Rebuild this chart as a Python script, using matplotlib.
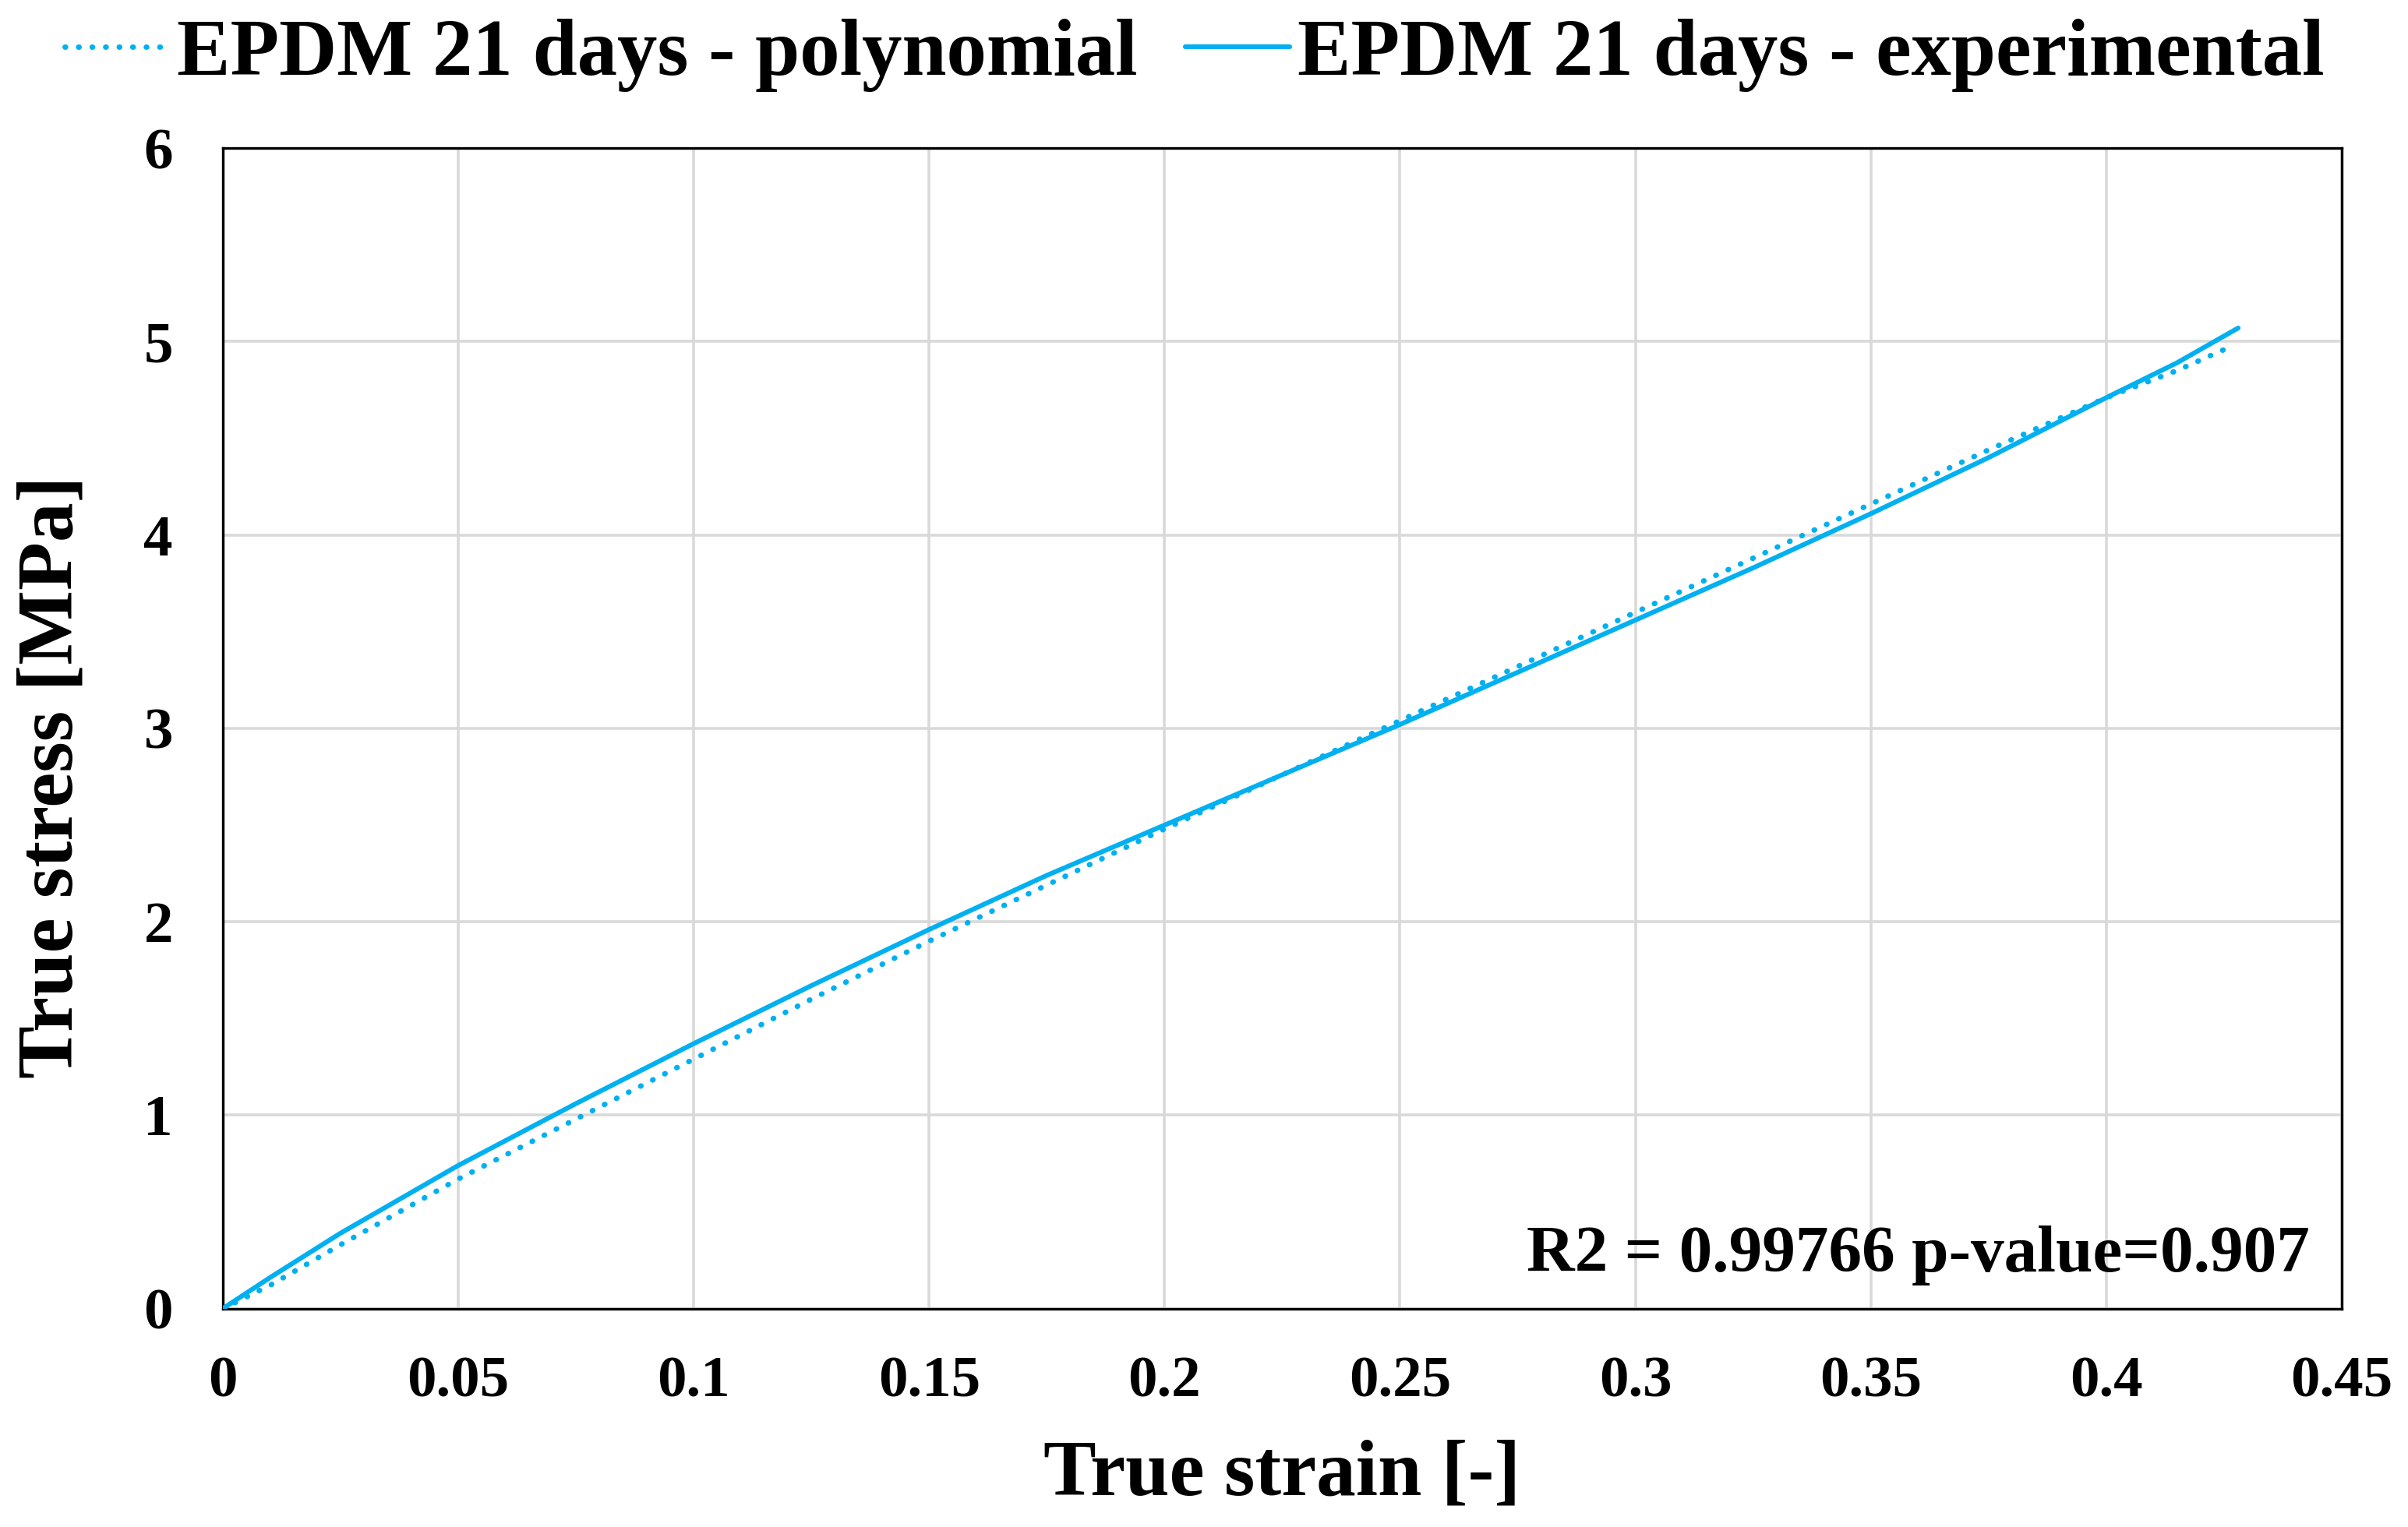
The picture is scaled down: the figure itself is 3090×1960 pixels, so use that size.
import matplotlib.pyplot as plt

# values
strain_exp = [0.0, 0.01, 0.025, 0.05, 0.075, 0.1, 0.125, 0.15, 0.175, 0.2,
              0.225, 0.25, 0.275, 0.3, 0.325, 0.35, 0.375, 0.4, 0.415, 0.428]
stress_exp = [0.0, 0.16, 0.39, 0.74, 1.06, 1.37, 1.67, 1.96, 2.24, 2.50,
              2.76, 3.02, 3.29, 3.56, 3.83, 4.11, 4.40, 4.71, 4.89, 5.07]

strain_poly = [0.0, 0.01, 0.025, 0.05, 0.075, 0.1, 0.125, 0.15, 0.175, 0.2,
               0.225, 0.25, 0.275, 0.3, 0.325, 0.35, 0.375, 0.4, 0.415, 0.427]
stress_poly = [0.0, 0.12, 0.33, 0.67, 0.98, 1.29, 1.60, 1.90, 2.19, 2.48,
               2.76, 3.04, 3.32, 3.60, 3.88, 4.16, 4.44, 4.71, 4.85, 4.98]

x_ticks = [0, 0.05, 0.1, 0.15, 0.2, 0.25, 0.3, 0.35, 0.4, 0.45]
x_ticklabels = ["0", "0.05", "0.1", "0.15", "0.2", "0.25", "0.3", "0.35", "0.4", "0.45"]
y_ticks = [0, 1, 2, 3, 4, 5, 6]

blue = "#00B0F0"

plt.rcParams["font.family"] = ["Liberation Serif", "DejaVu Serif"]
plt.rcParams["font.weight"] = "bold"

fig = plt.figure(figsize=(15.45, 9.8), dpi=200)
ax = fig.add_axes([0.0925, 0.143, 0.880, 0.760])

ax.plot(strain_poly, stress_poly, color=blue, lw=2.5, ls=(0, (0.1, 2.4)),
        dash_capstyle="round", label="EPDM 21 days - polynomial", zorder=3)
ax.plot(strain_exp, stress_exp, color=blue, lw=2.2, solid_capstyle="round",
        label="EPDM 21 days - experimental", zorder=3)

ax.set_xlim(0, 0.45)
ax.set_ylim(0, 6)
ax.set_xticks(x_ticks)
ax.set_xticklabels(x_ticklabels)
ax.set_yticks(y_ticks)
ax.tick_params(axis="x", length=0, labelsize=27, pad=22)
ax.tick_params(axis="y", length=0, labelsize=27, pad=23)
for lab in ax.get_xticklabels() + ax.get_yticklabels():
    lab.set_fontweight("bold")

ax.grid(True, color="#D9D9D9", lw=1.3, zorder=0)
ax.set_axisbelow(True)
for s in ax.spines.values():
    s.set_color("black")
    s.set_linewidth(1.2)

ax.set_xlabel("True strain [-]", fontsize=36.5, fontweight="bold", labelpad=14)
ax.set_ylabel("True stress [MPa]", fontsize=36.5, fontweight="bold")
ax.yaxis.set_label_coords(-0.063, 0.458)

ax.text(0.985, 0.02, "R2 = 0.99766 p-value=0.907", transform=ax.transAxes,
        ha="right", va="bottom", fontsize=30.7, fontweight="bold")

leg = fig.legend(loc="upper center", bbox_to_anchor=(0.496, 1.035), ncol=2,
                 frameon=False, fontsize=37, handlelength=1.3,
                 handletextpad=0.1, columnspacing=0.6)
for t in leg.get_texts():
    t.set_fontweight("bold")

fig.savefig("out.png", dpi=200, facecolor="white")
